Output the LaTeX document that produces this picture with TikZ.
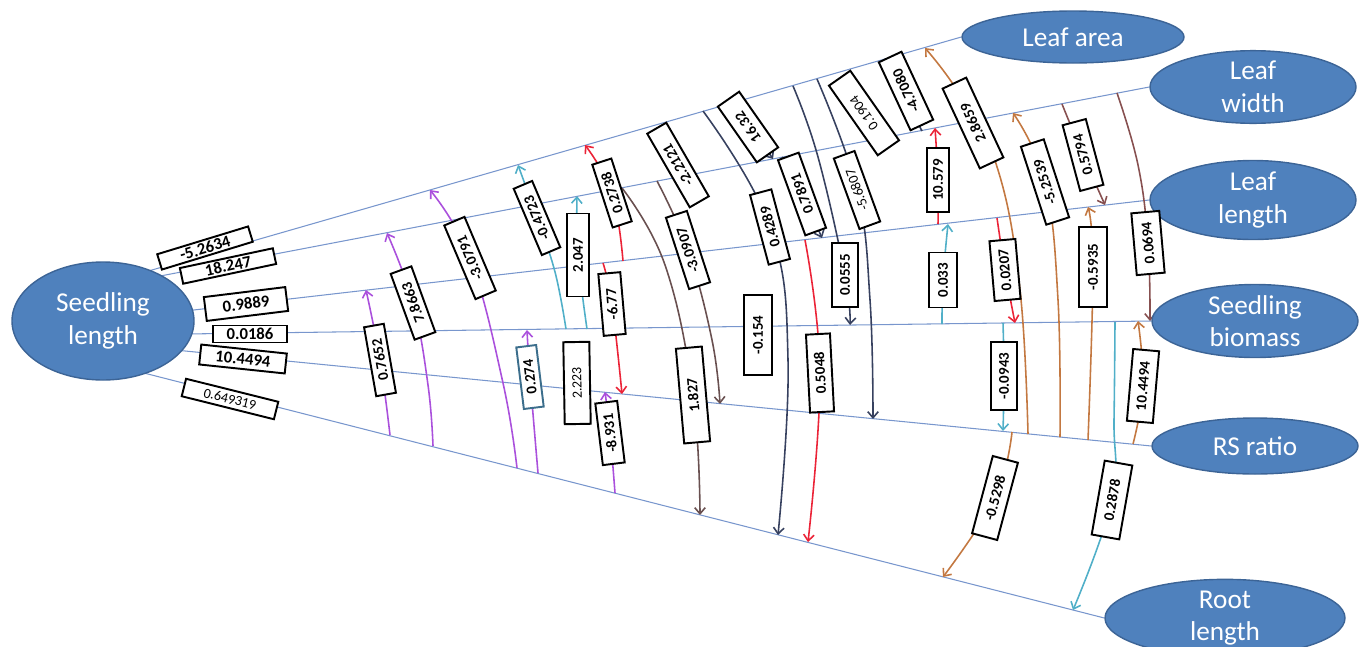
\documentclass[tikz,border=0pt]{standalone}
\usepackage{fontspec}
\setmainfont{Carlito}
\usetikzlibrary{shapes.geometric,arrows.meta}
\definecolor{spk}{RGB}{120,150,205}
\definecolor{ellB}{RGB}{79,129,189}
\definecolor{ellD}{RGB}{60,100,150}
\definecolor{cP}{RGB}{170,80,220}
\definecolor{cT}{RGB}{80,175,200}
\definecolor{cR}{RGB}{235,35,55}
\definecolor{cN}{RGB}{55,65,95}
\definecolor{cK}{RGB}{105,80,80}
\definecolor{cO}{RGB}{195,120,65}
\definecolor{cM}{RGB}{135,80,80}
\definecolor{bxT}{RGB}{60,110,140}
\pgfdeclarelayer{bg}
\pgfsetlayers{bg,main}
\tikzset{
  spoke/.style={draw=spk, line width=0.6pt},
  arw/.style={line width=0.9pt, -{Straight Barb[length=3.5pt,width=6pt]}},
  plain/.style={line width=0.9pt},
  lab/.style={draw=black, fill=white, line width=1.1pt, inner sep=1pt,
    font=\bfseries\fontsize{8.5}{9}\selectfont},
  llab/.style={lab, font=\bfseries\fontsize{9.5}{10}\selectfont},
  lt/.style={font=\fontsize{8}{9}\selectfont},
  lb/.style 2 args={minimum width=#1*0.02cm, minimum height=#2*0.02cm},
  ell/.style={ellipse, fill=ellB, draw=ellD, line width=0.8pt, text=white,
    font=\fontsize{15.5}{18.5}\selectfont, align=center, inner sep=0pt},
  es/.style 2 args={minimum width=#1*0.02cm, minimum height=#2*0.02cm},
  sm/.style={smooth, tension=0.7}
}
\begin{document}
\begin{tikzpicture}[x=0.02cm,y=-0.02cm]
\useasboundingbox (0,0) rectangle (1362,646);
% ellipses
\node[ell,es={182}{118}] (SL) at (103,321) {Seedling\\length};
\node[ell,es={222}{52}] (LA) at (1073,37) {Leaf area};
\node[ell,es={206}{68}] (LW) at (1253,87) {Leaf\\width};
\node[ell,es={206}{60}] (LL) at (1253,200) {Leaf\\length};
\node[ell,es={206}{72}] (SB) at (1255,321) {Seedling\\biomass};
\node[ell,es={206}{56}] (RS) at (1255,446) {RS ratio};
\node[ell,es={240}{70}] (RL) at (1225,618) {Root\\length};
% spoke starts
\coordinate (s1) at (145,272);
\coordinate (s2) at (155,277);
\coordinate (s3) at (185,311);
\coordinate (s4) at (185,334);
\coordinate (s5) at (175,350);
\coordinate (s6) at (140,372);
% left label centres
\coordinate (q1) at (205,248);
\coordinate (q2) at (228,266);
\coordinate (q3) at (246,304);
\coordinate (q4) at (250,334);
\coordinate (q5) at (243,359);
\coordinate (q6) at (230,399);
% arc coordinates
\coordinate (P1a) at (390,435); \coordinate (P1c) at (380,360); \coordinate (P1b) at (366,290);
\coordinate (P2a) at (433,446); \coordinate (P2m) at (428,385); \coordinate (P2c) at (413,303); \coordinate (P2b) at (387,233);
\coordinate (P3a) at (517,468); \coordinate (P3m) at (503,383); \coordinate (P3c) at (470,258); \coordinate (P3b) at (430,190);
\coordinate (P4a) at (538,473); \coordinate (P4c) at (530,377); \coordinate (P4b) at (527,330);
\coordinate (P5a) at (615,493); \coordinate (P5c) at (610,433); \coordinate (P5b) at (605,392);
\coordinate (T1a) at (566,329); \coordinate (T1m) at (555,272); \coordinate (T1c) at (537,218); \coordinate (T1b) at (518,165);
\coordinate (T2a) at (587,329); \coordinate (T2c) at (578,255); \coordinate (T2b) at (577,196);
\coordinate (T3a) at (1003,323); \coordinate (T3c) at (1004,376); \coordinate (T3b) at (1003,431);
\coordinate (T4a) at (942,324); \coordinate (T4c) at (943,280); \coordinate (T4b) at (948,224);
\coordinate (T5a) at (1115,322); \coordinate (T5m) at (1114,420); \coordinate (T5c) at (1112,500); \coordinate (T5b) at (1073,610);
\coordinate (R1a) at (623,261); \coordinate (R1c) at (612,193); \coordinate (R1b) at (585,145);
\coordinate (R2a) at (603,263); \coordinate (R2c) at (612,304); \coordinate (R2b) at (622,394);
\coordinate (R3a) at (805,240); \coordinate (R3c) at (820,373); \coordinate (R3b) at (808,542);
\coordinate (R4a) at (938,224); \coordinate (R4c) at (938,180); \coordinate (R4b) at (935,128);
\coordinate (R5a) at (997,218); \coordinate (R5c) at (1005,270); \coordinate (R5b) at (1015,323);
\coordinate (D1a) at (703,111); \coordinate (D1c) at (770,227); \coordinate (D1m) at (788,360); \coordinate (D1b) at (778,535);
\coordinate (D2a) at (718,107); \coordinate (D2c) at (748,127); \coordinate (D2b) at (773,159);
\coordinate (D3a) at (782,157); \coordinate (D3c) at (802,194); \coordinate (D3b) at (822,238);
\coordinate (D4a) at (793,86); \coordinate (D4m) at (818,157); \coordinate (D4c) at (845,275); \coordinate (D4b) at (850,325);
\coordinate (D5a) at (817,79); \coordinate (D5c) at (857,190); \coordinate (D5m) at (870,300); \coordinate (D5b) at (873,419);
\coordinate (D6c) at (758,335);
\coordinate (D7c) at (864,113);
\coordinate (D8a) at (885,59); \coordinate (D8c) at (906,91); \coordinate (D8b) at (922,131);
\coordinate (K0c) at (678,165);
\coordinate (K1a) at (657,181); \coordinate (K1c) at (688,250); \coordinate (K1m) at (712,340); \coordinate (K1b) at (720,404);
\coordinate (K2a) at (622,188); \coordinate (K2m) at (665,265); \coordinate (K2c) at (693,395); \coordinate (K2b) at (700,515);
\coordinate (O1a) at (1028,434); \coordinate (O1m) at (1020,290); \coordinate (O1n) at (998,170); \coordinate (O1o) at (960,95); \coordinate (O1b) at (925,48);
\coordinate (O1c) at (973,123);
\coordinate (O2a) at (1060,437); \coordinate (O2m) at (1058,300); \coordinate (O2c) at (1045,182); \coordinate (O2b) at (1013,113);
\coordinate (O3a) at (1088,440); \coordinate (O3c) at (1093,267); \coordinate (O3b) at (1088,207);
\coordinate (O4a) at (1133,444); \coordinate (O4c) at (1143,386); \coordinate (O4b) at (1138,321);
\coordinate (O5a) at (1012,432); \coordinate (O5c) at (995,498); \coordinate (O5b) at (943,577);
\coordinate (M1a) at (1062,104); \coordinate (M1c) at (1083,155); \coordinate (M1b) at (1105,205);
\coordinate (M2a) at (1117,93); \coordinate (M2m) at (1138,165); \coordinate (M2c) at (1148,243); \coordinate (M2b) at (1150,321);
\coordinate (X1c) at (577,383);

\begin{pgfonlayer}{bg}
% spokes
\draw[spoke] (s1) -- (LA.west);
\draw[spoke] (s2) -- (LW.west);
\draw[spoke] (s3) -- (LL.west);
\draw[spoke] (s4) -- (SB.west);
\draw[spoke] (s5) -- (RS.west);
\draw[spoke] (s6) -- (RL.west);
% purple
\draw[arw,cP] plot[sm] coordinates {(P1a) (P1c) (P1b)};
\draw[arw,cP] plot[sm] coordinates {(P2a) (P2m) (P2c) (P2b)};
\draw[arw,cP] plot[sm] coordinates {(P3a) (P3m) (P3c) (P3b)};
\draw[arw,cP] plot[sm] coordinates {(P4a) (P4c) (P4b)};
\draw[arw,cP] plot[sm] coordinates {(P5a) (P5c) (P5b)};
% teal
\draw[arw,cT] plot[sm] coordinates {(T1a) (T1m) (T1c) (T1b)};
\draw[arw,cT] plot[sm] coordinates {(T2a) (T2c) (T2b)};
\draw[arw,cT] plot[sm] coordinates {(T3a) (T3c) (T3b)};
\draw[arw,cT] plot[sm] coordinates {(T4a) (T4c) (T4b)};
\draw[arw,cT] plot[sm] coordinates {(T5a) (T5m) (T5c) (T5b)};
% red
\draw[arw,cR] plot[sm] coordinates {(R1a) (R1c) (R1b)};
\draw[arw,cR] plot[sm] coordinates {(R2a) (R2c) (R2b)};
\draw[arw,cR] plot[sm] coordinates {(R3a) (R3c) (R3b)};
\draw[arw,cR] plot[sm] coordinates {(R4a) (R4c) (R4b)};
\draw[arw,cR] plot[sm] coordinates {(R5a) (R5c) (R5b)};
% navy
\draw[arw,cN] plot[sm] coordinates {(D1a) (D1c) (D1m) (D1b)};
\draw[arw,cN] plot[sm] coordinates {(D2a) (D2c) (D2b)};
\draw[arw,cN] plot[sm] coordinates {(D3a) (D3c) (D3b)};
\draw[arw,cN] plot[sm] coordinates {(D4a) (D4m) (D4c) (D4b)};
\draw[arw,cN] plot[sm] coordinates {(D5a) (D5c) (D5m) (D5b)};
\draw[plain,cN] (D8a) -- (D8b);
% dark brown
\draw[arw,cK] plot[sm] coordinates {(K1a) (K1c) (K1m) (K1b)};
\draw[arw,cK] plot[sm] coordinates {(K2a) (K2m) (K2c) (K2b)};
% orange
\draw[arw,cO] plot[sm] coordinates {(O1a) (O1m) (O1n) (O1o) (O1b)};
\draw[arw,cO] plot[sm] coordinates {(O2a) (O2m) (O2c) (O2b)};
\draw[arw,cO] plot[sm] coordinates {(O3a) (O3c) (O3b)};
\draw[arw,cO] plot[sm] coordinates {(O4a) (O4c) (O4b)};
\draw[arw,cO] plot[sm] coordinates {(O5a) (O5c) (O5b)};
% maroon
\draw[arw,cM] plot[sm] coordinates {(M1a) (M1c) (M1b)};
\draw[arw,cM] plot[sm] coordinates {(M2a) (M2m) (M2c) (M2b)};
\end{pgfonlayer}

% left labels
\node[llab,lb={95}{16},rotate=17] (n1) at (q1) {-5.2634};
\node[llab,lb={95}{16},rotate=12] (n2) at (q2) {18.247};
\node[llab,lb={82}{24},rotate=7] (n3) at (q3) {0.9889};
\node[llab,lb={74}{17},rotate=0] (n4) at (q4) {0.0186};
\node[llab,lb={86}{20},rotate=-6] (n5) at (q5) {10.4494};
\node[llab,lt,lb={95}{18},rotate=-14] (n6) at (q6) {0.649319};
% arc labels
\node[lab,lb={70}{20},rotate=100] (lP1) at (P1c) {0.7652};
\node[lab,lb={70}{22},rotate=110] (lP2) at (P2c) {7.8663};
\node[lab,lb={80}{22},rotate=113] (lP3) at (P3c) {-3.0791};
\node[lab,draw=bxT,lb={62}{20},rotate=97] (lP4) at (P4c) {0.274};
\node[lab,lb={62}{22},rotate=97] (lP5) at (P5c) {-8.931};
\node[lab,lb={72}{20},rotate=113] (lT1) at (T1c) {-0.4723};
\node[lab,lb={83}{22},rotate=90] (lT2) at (T2c) {2.047};
\node[lab,lb={68}{26},rotate=90] (lT3) at (T3c) {-0.0943};
\node[lab,lb={55}{28},rotate=90] (lT4) at (T4c) {0.033};
\node[lab,lb={75}{28},rotate=80] (lT5) at (T5c) {0.2878};
\node[lab,lb={66}{20},rotate=108] (lR1) at (R1c) {0.2738};
\node[lab,lb={62}{22},rotate=95] (lR2) at (R2c) {-6.77};
\node[lab,lb={78}{24},rotate=93] (lR3) at (R3c) {0.5048};
\node[lab,lb={64}{22},rotate=90] (lR4) at (R4c) {10.579};
\node[lab,lb={60}{26},rotate=95] (lR5) at (R5c) {0.0207};
\node[lab,lb={72}{22},rotate=105] (lD1) at (D1c) {0.4289};
\node[lab,lb={68}{26},rotate=125] (lD2) at (D2c) {16.32};
\node[lab,lb={80}{22},rotate=110] (lD3) at (D3c) {0.7891};
\node[lab,lb={64}{26},rotate=90] (lD4) at (D4c) {0.0555};
\node[lab,lt,lb={75}{22},rotate=110] (lD5) at (D5c) {-5.6807};
\node[lab,lb={80}{28},rotate=90] (lD6) at (D6c) {-0.154};
\node[lab,lt,lb={85}{26},rotate=125] (lD7) at (D7c) {0.1904};
\node[lab,lb={75}{25},rotate=115] (lD8) at (D8c) {-4.7080};
\node[lab,lb={85}{22},rotate=120] (lK0) at (K0c) {-2.2121};
\node[lab,lb={75}{22},rotate=108] (lK1) at (K1c) {-3.0907};
\node[lab,lb={95}{26},rotate=95] (lK2) at (K2c) {1.827};
\node[lab,lb={88}{26},rotate=115] (lO1) at (O1c) {2.8659};
\node[lab,lb={82}{24},rotate=108] (lO2) at (O2c) {-5.2539};
\node[lab,lb={80}{28},rotate=90] (lO3) at (O3c) {-0.5935};
\node[lab,lb={72}{26},rotate=85] (lO4) at (O4c) {10.4494};
\node[lab,lb={80}{26},rotate=75] (lO5) at (O5c) {-0.5298};
\node[lab,lb={68}{24},rotate=105] (lM1) at (M1c) {0.5794};
\node[lab,lb={62}{28},rotate=95] (lM2) at (M2c) {0.0694};
\node[lab,lt,lb={82}{26},rotate=91] (lX1) at (X1c) {2.223};
\end{tikzpicture}
\end{document}
